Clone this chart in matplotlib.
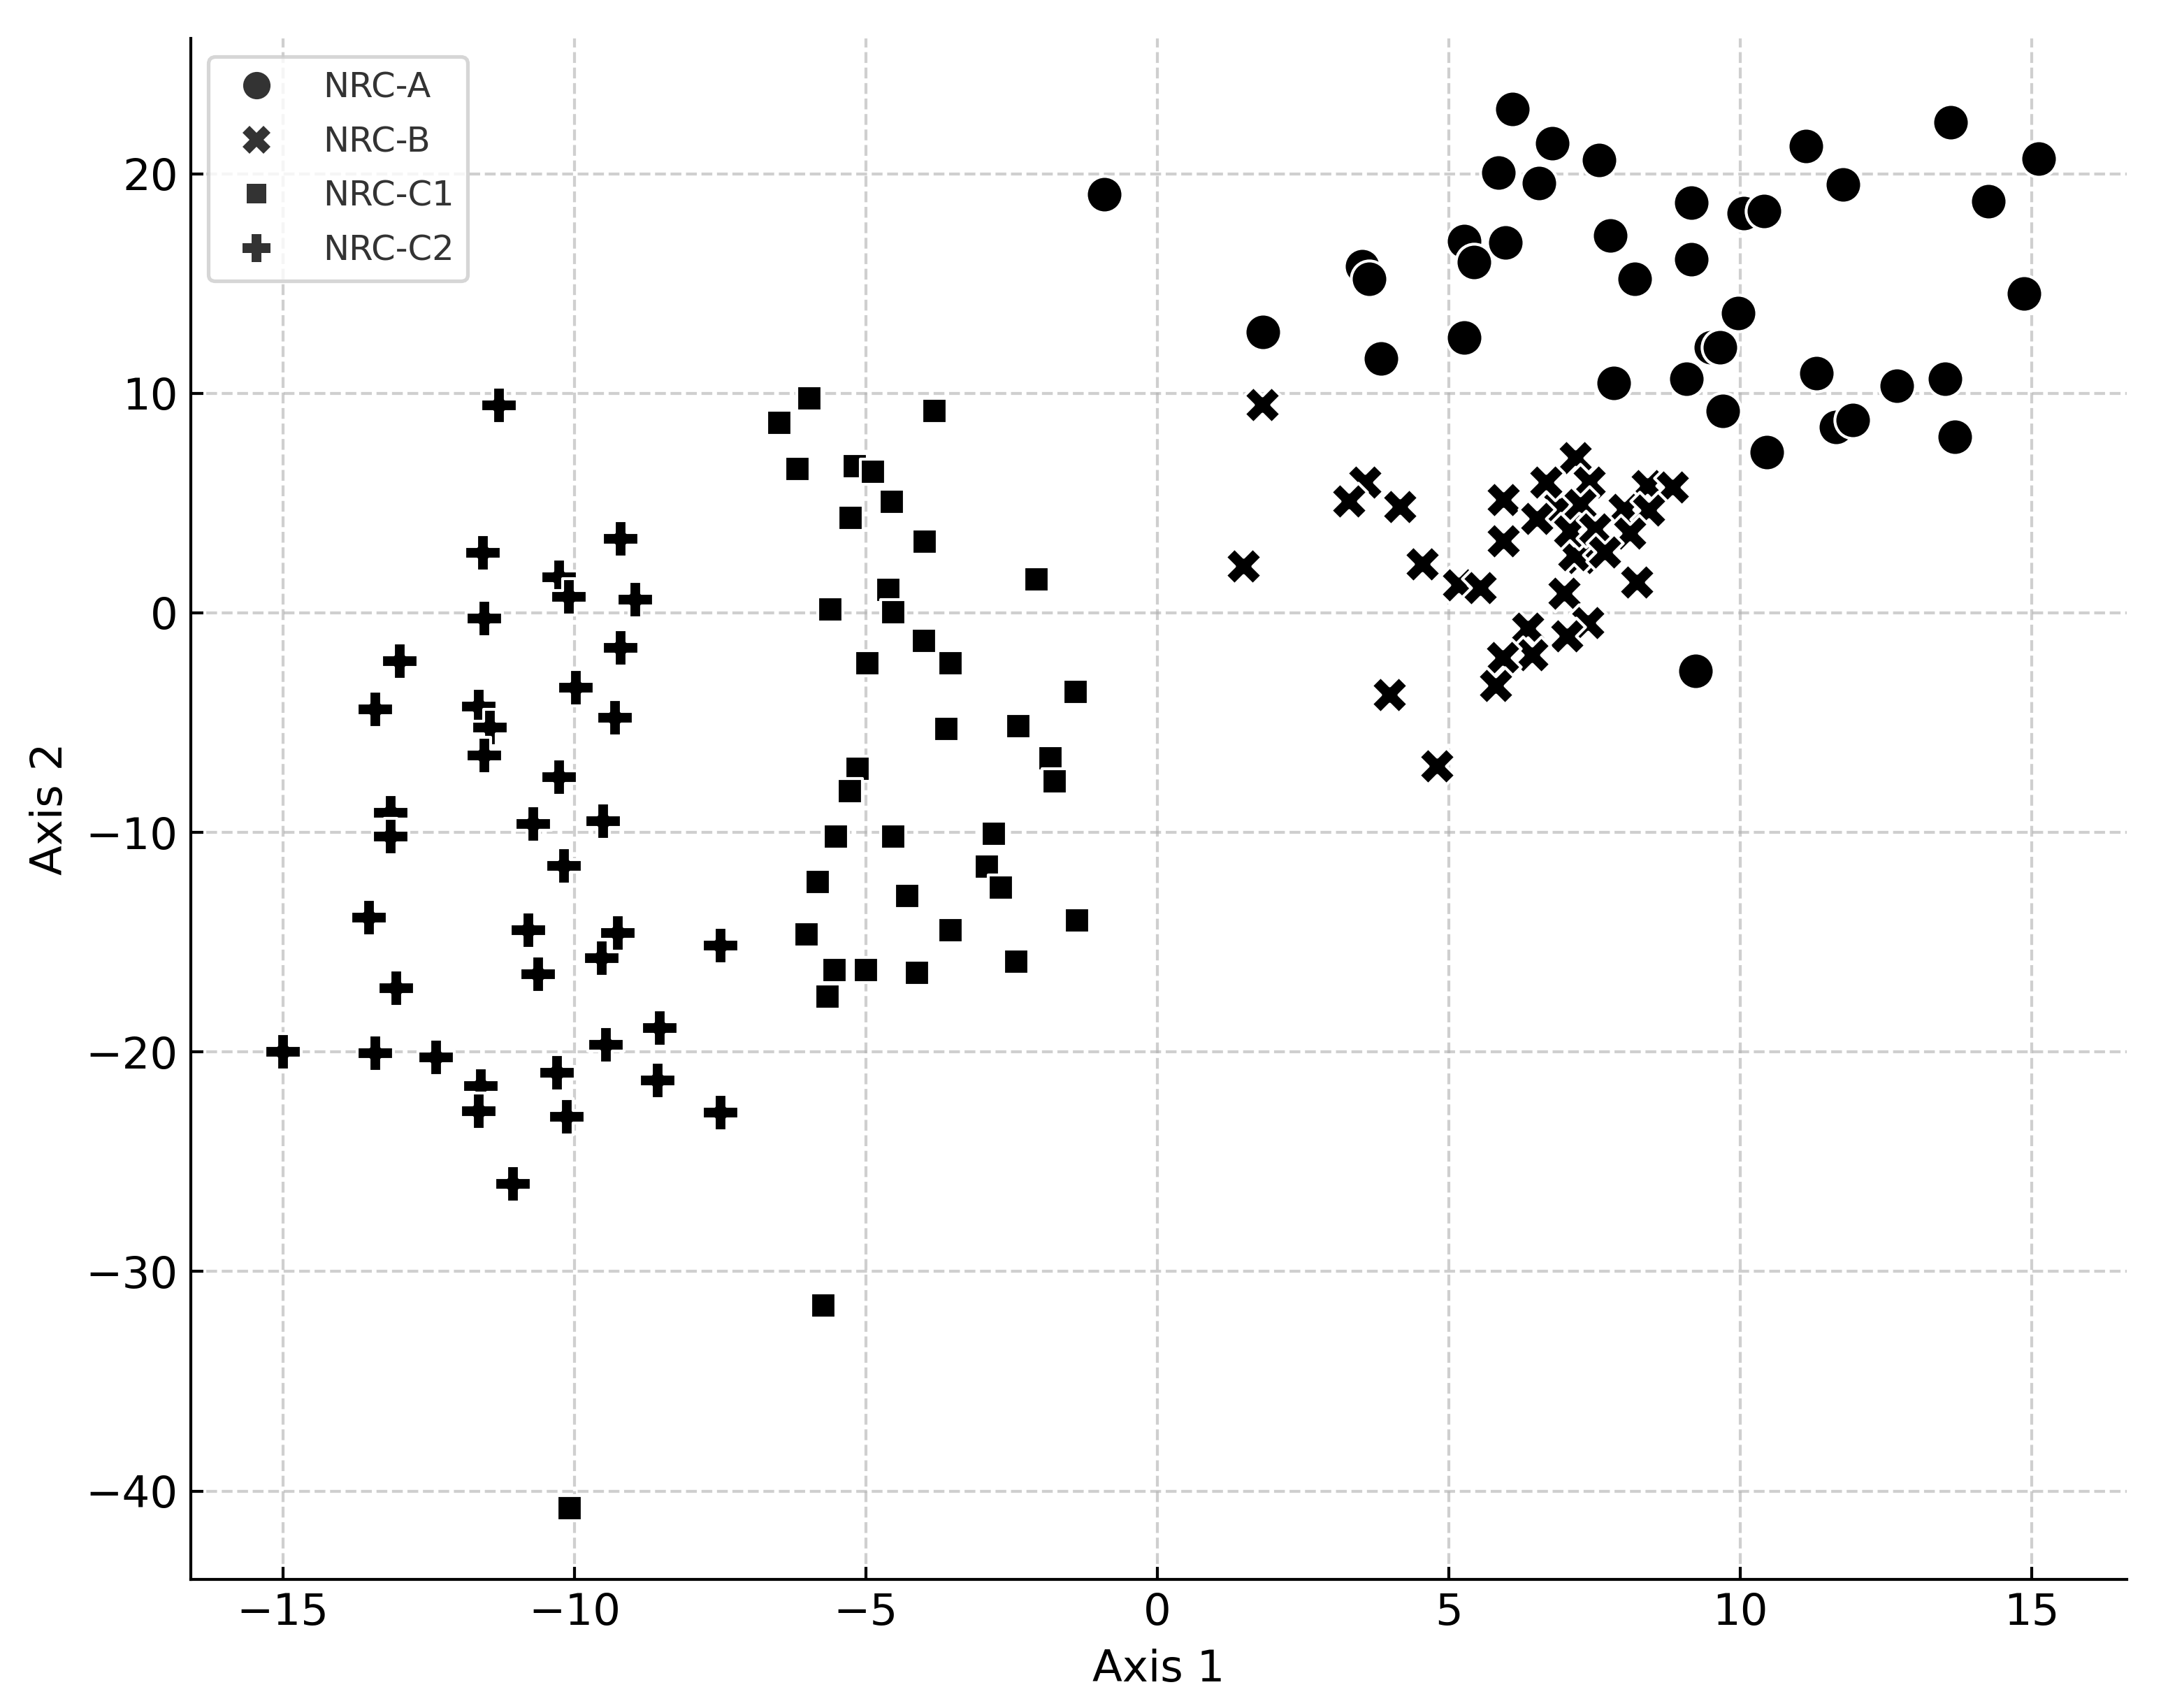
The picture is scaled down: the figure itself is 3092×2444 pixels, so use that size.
import numpy as np
import matplotlib
matplotlib.use("Agg")
import matplotlib.pyplot as plt
from matplotlib.lines import Line2D

# ---- data ----
groups = ["NRC-A", "NRC-B", "NRC-C1", "NRC-C2"]

nrc_a_x = [-0.91, 1.81, 3.51, 3.63, 3.84, 5.26, 5.43, 5.26, 5.85, 6.09, 5.97, 6.54, 6.77,
           7.58, 7.77, 7.83, 8.19, 9.16, 9.16, 9.07, 9.49, 9.65, 9.70, 9.96, 10.06, 10.41,
           10.46, 11.12, 11.31, 11.76, 11.64, 11.93, 12.68, 13.51, 13.61, 13.68, 14.26,
           14.86, 15.12, 9.23]
nrc_a_y = [19.05, 12.78, 15.79, 15.22, 11.58, 16.93, 15.98, 12.54, 20.06, 22.95, 16.87, 19.56,
           21.38, 20.63, 17.18, 10.46, 15.22, 18.69, 16.11, 10.65, 12.09, 12.09, 9.21, 13.66,
           18.19, 18.31, 7.33, 21.26, 10.90, 19.50, 8.46, 8.77, 10.34, 10.65, 22.33, 8.02,
           18.75, 14.54, 20.69, -2.65]

nrc_b_x = [1.80, 3.56, 3.29, 4.16, 1.47, 4.54, 5.17, 5.54, 5.94, 5.94, 6.98, 8.22, 6.35, 7.39,
           7.02, 6.42, 5.92, 5.80, 3.98, 4.79, 7.25, 7.15, 6.91, 7.17, 6.67, 7.41, 8.41, 8.83,
           6.51, 7.25, 8.01, 8.43, 7.07, 7.51, 8.11, 7.67]
nrc_b_y = [9.49, 5.95, 5.08, 4.82, 2.12, 2.24, 1.26, 1.14, 5.14, 3.27, 0.90, 1.39, -0.69, -0.44,
           -1.05, -1.90, -2.03, -3.30, -3.73, -6.96, 2.50, 2.65, 4.88, 7.06, 5.94, 5.94, 5.79,
           5.73, 4.30, 4.93, 4.72, 4.67, 3.72, 3.82, 3.61, 2.76]

nrc_c1_x = [-5.97, -6.49, -3.82, -6.18, -5.19, -4.88, -5.26, -4.55, -3.99, -2.07, -4.62, -4.53,
            -5.61, -4.97, -4.00, -3.55, -1.40, -3.62, -2.39, -1.83, -1.76, -5.14, -5.28, -5.52,
            -4.53, -2.80, -2.92, -2.68, -5.83, -4.29, -6.02, -3.55, -1.38, -5.54, -5.00, -4.12,
            -2.42, -5.66, -5.73, -10.08]
nrc_c1_y = [9.78, 8.64, 9.21, 6.56, 6.69, 6.44, 4.31, 5.07, 3.24, 1.54, 1.04, 0.04, 0.17, -2.28,
            -1.27, -2.28, -3.60, -5.30, -5.17, -6.61, -7.68, -7.10, -8.12, -10.18, -10.18,
            -10.06, -11.56, -12.52, -12.26, -12.90, -14.65, -14.46, -14.02, -16.28, -16.28,
            -16.40, -15.90, -17.48, -31.54, -40.77]

nrc_c2_x = [-11.29, -11.57, -9.21, -10.26, -10.10, -8.95, -11.55, -13.00, -9.21, -9.97, -13.41,
            -11.64, -11.45, -11.55, -9.30, -10.26, -13.15, -13.15, -10.70, -9.51, -10.18,
            -13.52, -10.79, -9.25, -9.53, -10.62, -13.06, -7.49, -15.00, -13.41, -12.37, -9.46,
            -8.54, -8.57, -11.60, -11.64, -10.30, -10.13, -7.49, -11.05]
nrc_c2_y = [9.45, 2.75, 3.37, 1.61, 0.73, 0.61, -0.27, -2.21, -1.59, -3.41, -4.41, -4.28, -5.23,
            -6.48, -4.79, -7.49, -9.12, -10.19, -9.62, -9.50, -11.51, -13.89, -14.46, -14.59,
            -15.72, -16.47, -17.10, -15.15, -19.98, -20.05, -20.24, -19.67, -18.92, -21.31,
            -21.56, -22.69, -20.93, -22.94, -22.75, -26.01]

xs = [nrc_a_x, nrc_b_x, nrc_c1_x, nrc_c2_x]
ys = [nrc_a_y, nrc_b_y, nrc_c1_y, nrc_c2_y]
markers = ["o", "X", (4, 0, 45), "P"]

DPI = 376
fig = plt.figure(figsize=(3092 / DPI, 2444 / DPI), dpi=DPI)
ax = fig.add_axes([0.0883, 0.0753, 0.9842 - 0.0883, 0.9775 - 0.0753])

for gx, gy, m in zip(xs, ys, markers):
    ax.scatter(gx, gy, s=100, marker=m, c="black", edgecolors="white", linewidths=0.8, zorder=3)

ax.set_xlim(-16.58, 16.63)
ax.set_ylim(-44.02, 26.16)
ax.set_xticks([-15, -10, -5, 0, 5, 10, 15])
ax.set_yticks([-40, -30, -20, -10, 0, 10, 20])
ax.tick_params(direction="in", labelsize=12, length=3.5)
ax.grid(True, linestyle="--", color="#b0b0b0", alpha=0.6, linewidth=0.8, zorder=0)
ax.set_axisbelow(True)
for side in ["top", "right"]:
    ax.spines[side].set_visible(False)

ax.set_xlabel("Axis 1", fontsize=12)
ax.set_ylabel("Axis 2", fontsize=12)

handles = [Line2D([], [], linestyle="none", marker=m, color="#333333", markersize=7.5,
                  markeredgewidth=0) for m in markers]
leg = ax.legend(handles, groups, loc="upper left", bbox_to_anchor=(0.009, 0.988),
                borderaxespad=0, fontsize=9.5, labelspacing=0.6, handletextpad=0.9,
                labelcolor="#333333", frameon=True)
leg.get_frame().set_edgecolor("#cccccc")

fig.savefig("out.png", dpi=DPI)
